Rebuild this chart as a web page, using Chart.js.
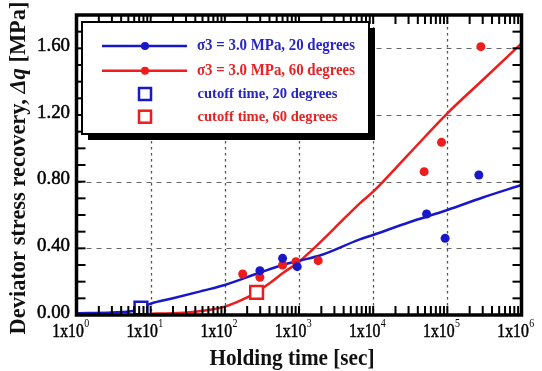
<!DOCTYPE html>
<html>
<head>
<meta charset="utf-8">
<script src="https://cdn.jsdelivr.net/npm/chart.js@4/dist/chart.umd.min.js"></script>
<style>
    html, body { margin: 0; padding: 0; background: #fff; }
    canvas { display: block; }
</style>
</head>
<body>
<canvas id="recoveryChart" width="542" height="371"></canvas>
<script>
// measured points (holding time [s], recovery [MPa])
const blueTime = [297, 601, 946, 52500, 93400, 266000];
const blueRecovery = [0.266, 0.34, 0.29, 0.606, 0.46, 0.84];
const redTime = [174, 297, 601, 908, 1815, 48700, 83500, 283000];
const redRecovery = [0.246, 0.226, 0.30, 0.32, 0.326, 0.86, 1.036, 1.61];

// cutoff time markers
const blueCutoffTime = [7.4];
const blueCutoffRecovery = [0.042];
const redCutoffTime = [268];
const redCutoffRecovery = [0.136];

// fitted curves
const blueFitTime = [1, 3, 6, 7.4, 10, 20, 50, 100, 300, 600, 1000, 2000, 6600, 10000, 30000, 100000, 300000, 1000000];
const blueFitRecovery = [0.01, 0.015, 0.025, 0.04, 0.068, 0.1, 0.145, 0.18, 0.255, 0.30, 0.325, 0.36, 0.454, 0.48, 0.555, 0.63, 0.705, 0.78];
const redFitTime = [10, 20, 40, 70, 100, 150, 268, 400, 600, 1000, 1500, 3000, 6600, 10000, 30000, 100000, 300000, 1000000];
const redFitRecovery = [0.008, 0.01, 0.02, 0.035, 0.05, 0.08, 0.136, 0.19, 0.25, 0.32, 0.39, 0.52, 0.67, 0.74, 0.964, 1.21, 1.41, 1.63];

// axis labels
const xExponents = ['0', '1', '2', '3', '4', '5', '6'];
const yTickValues = [0, 0.4, 0.8, 1.2, 1.6];

const legendLabels = [
    'σ3 = 3.0 MPa, 20 degrees',
    'σ3 = 3.0 MPa, 60 degrees',
    'cutoff time, 20 degrees',
    'cutoff time, 60 degrees'
];

const BLUE = '#1818c8';
const RED = '#ee1c1c';
const BLUE_TEXT = '#2626c4';
const RED_TEXT = '#e82222';
const SERIF = '"Liberation Serif", "Times New Roman", serif';

function toPoints(xs, ys) {
    return xs.map((x, i) => ({ x: x, y: ys[i] }));
}

// draw text squeezed/stretched horizontally to a given width
function fitText(ctx, text, x, y, width, align, heavy) {
    const w = ctx.measureText(text).width;
    ctx.save();
    ctx.translate(x, y);
    ctx.scale(width / w, 1);
    ctx.textAlign = align;
    ctx.fillText(text, 0, 0);
    if (heavy) {
        ctx.lineWidth = heavy;
        ctx.strokeStyle = ctx.fillStyle;
        ctx.strokeText(text, 0, 0);
    }
    ctx.restore();
}

// inward tick marks on all four sides
const tickMarks = {
    id: 'tickMarks',
    afterDraw(chart) {
        const ctx = chart.ctx;
        const area = chart.chartArea;
        const xs = chart.scales.x;
        const ys = chart.scales.y;
        ctx.save();
        ctx.fillStyle = '#000';
        for (let d = 0; d < 6; d++) {
            for (let k = 1; k <= 9; k++) {
                const px = xs.getPixelForValue(k * Math.pow(10, d));
                ctx.fillRect(px - 1, area.bottom - 9, 2, 9);
                ctx.fillRect(px - 1, area.top, 2, 9);
            }
        }
        for (let i = 1; i < 18; i++) {
            const py = ys.getPixelForValue(i / 10);
            ctx.fillRect(area.left, py - 1, 9, 2);
            ctx.fillRect(area.right - 9, py - 1, 9, 2);
        }
        ctx.restore();
    }
};

const chartDecor = {
    id: 'chartDecor',
    beforeDatasetsDraw(chart) {
        const ctx = chart.ctx;
        const area = chart.chartArea;
        const xs = chart.scales.x;
        const ys = chart.scales.y;

        ctx.save();
        // vertical dotted grid at decades
        ctx.strokeStyle = '#555';
        ctx.lineWidth = 1.3;
        ctx.setLineDash([2.5, 3.5]);
        for (let d = 1; d <= 5; d++) {
            const px = Math.round(xs.getPixelForValue(Math.pow(10, d))) + 0.5;
            ctx.beginPath();
            ctx.moveTo(px, area.top);
            ctx.lineTo(px, area.bottom);
            ctx.stroke();
        }
        // horizontal dashed grid
        ctx.strokeStyle = '#666';
        ctx.lineWidth = 1;
        ctx.setLineDash([5, 5]);
        yTickValues.slice(1).forEach(v => {
            const py = Math.round(ys.getPixelForValue(v)) + 0.5;
            ctx.beginPath();
            ctx.moveTo(area.left, py);
            ctx.lineTo(area.right, py);
            ctx.stroke();
        });
        ctx.restore();
    },
    afterDraw(chart) {
        const ctx = chart.ctx;
        const area = chart.chartArea;
        const xs = chart.scales.x;
        const ys = chart.scales.y;

        ctx.save();
        // frame
        ctx.strokeStyle = '#000';
        ctx.lineWidth = 3.5;
        ctx.strokeRect(area.left, area.top, area.right - area.left, area.bottom - area.top);

        // y tick labels
        ctx.fillStyle = '#000';
        ctx.textBaseline = 'middle';
        ctx.font = '18px ' + SERIF;
        yTickValues.forEach(v => {
            fitText(ctx, v.toFixed(2), 70, ys.getPixelForValue(v) - 2, 33, 'right', 0.5);
        });

        // x tick labels 1x10^n
        xExponents.forEach((e, i) => {
            const cx = xs.getPixelForValue(Math.pow(10, i)) - 6;
            ctx.font = '19px ' + SERIF;
            const w1 = ctx.measureText('1x10').width;
            ctx.font = '12px ' + SERIF;
            const w2 = ctx.measureText(e).width;
            const s = 36.5 / (w1 + w2);
            ctx.save();
            ctx.translate(cx - 36.5 / 2, 332);
            ctx.scale(s, 1);
            ctx.textAlign = 'left';
            ctx.strokeStyle = '#000';
            ctx.lineWidth = 0.5;
            ctx.font = '19px ' + SERIF;
            ctx.fillText('1x10', 0, 0);
            ctx.strokeText('1x10', 0, 0);
            ctx.font = '12px ' + SERIF;
            ctx.fillText(e, w1 + 0.5, -8);
            ctx.restore();
        });

        // axis titles
        ctx.fillStyle = '#111';
        ctx.font = 'bold 24px ' + SERIF;
        fitText(ctx, 'Holding time [sec]', 292, 359, 165, 'center');

        const parts = [
            { t: 'Deviator stress recovery, ', f: 'bold 23px ' + SERIF },
            { t: 'Δq', f: 'italic bold 23px ' + SERIF },
            { t: ' [MPa]', f: 'bold 23px ' + SERIF }
        ];
        let total = 0;
        parts.forEach(p => { ctx.font = p.f; p.w = ctx.measureText(p.t).width; total += p.w; });
        const sy = 333 / total;
        ctx.save();
        ctx.translate(19, 168);
        ctx.rotate(-Math.PI / 2);
        ctx.scale(sy, 1);
        ctx.textAlign = 'left';
        let pos = -total / 2;
        parts.forEach(p => { ctx.font = p.f; ctx.fillText(p.t, pos, 0); pos += p.w; });
        ctx.restore();

        // legend box with drop shadow
        const lx = 82, ly = 22, lw = 287, lh = 112;
        ctx.fillStyle = '#000';
        ctx.fillRect(lx + 6, ly + 6, lw, lh);
        ctx.fillStyle = '#fff';
        ctx.fillRect(lx, ly, lw, lh);
        ctx.lineWidth = 2;
        ctx.strokeStyle = '#000';
        ctx.strokeRect(lx, ly, lw, lh);

        const rows = [46, 70.7, 94, 116.7];
        // line samples
        [BLUE, RED].forEach((c, i) => {
            ctx.strokeStyle = c;
            ctx.fillStyle = c;
            ctx.lineWidth = 2.5;
            ctx.beginPath();
            ctx.moveTo(102, rows[i]);
            ctx.lineTo(187, rows[i]);
            ctx.stroke();
            ctx.beginPath();
            ctx.arc(145, rows[i], 4, 0, Math.PI * 2);
            ctx.fill();
        });
        // square samples
        [BLUE, RED].forEach((c, i) => {
            ctx.strokeStyle = c;
            ctx.fillStyle = '#fff';
            ctx.lineWidth = 2.5;
            ctx.fillRect(139, rows[i + 2] - 6, 12, 12);
            ctx.strokeRect(139, rows[i + 2] - 6, 12, 12);
        });
        // legend texts
        ctx.textBaseline = 'middle';
        ctx.font = 'bold 16px ' + SERIF;
        ctx.fillStyle = BLUE_TEXT;
        fitText(ctx, legendLabels[0], 197, rows[0], 158, 'left');
        ctx.fillStyle = RED_TEXT;
        fitText(ctx, legendLabels[1], 197, rows[1], 158, 'left');
        ctx.font = 'bold 15px ' + SERIF;
        ctx.fillStyle = BLUE_TEXT;
        fitText(ctx, legendLabels[2], 197.5, rows[2], 140, 'left');
        ctx.fillStyle = RED_TEXT;
        fitText(ctx, legendLabels[3], 197.5, rows[3], 140, 'left');

        ctx.restore();
    }
};

document.addEventListener('DOMContentLoaded', function() {
    const ctx = document.getElementById('recoveryChart').getContext('2d');

    const config = {
        type: 'scatter',
        data: {
            datasets: [{
                label: legendLabels[2],
                data: toPoints(blueCutoffTime, blueCutoffRecovery),
                pointStyle: 'rect',
                pointRadius: 9,
                borderColor: BLUE,
                backgroundColor: '#fff',
                borderWidth: 2.5
            }, {
                label: legendLabels[3],
                data: toPoints(redCutoffTime, redCutoffRecovery),
                pointStyle: 'rect',
                pointRadius: 9,
                borderColor: RED,
                backgroundColor: '#fff',
                borderWidth: 2.5
            }, {
                label: 'blue points',
                data: toPoints(blueTime, blueRecovery),
                pointRadius: 4.5,
                borderWidth: 0,
                backgroundColor: BLUE
            }, {
                label: 'red points',
                data: toPoints(redTime, redRecovery),
                pointRadius: 4.5,
                borderWidth: 0,
                backgroundColor: RED
            }, {
                label: legendLabels[0],
                data: toPoints(blueFitTime, blueFitRecovery),
                showLine: true,
                pointRadius: 0,
                borderColor: BLUE,
                borderWidth: 2.5,
                cubicInterpolationMode: 'monotone'
            }, {
                label: legendLabels[1],
                data: toPoints(redFitTime, redFitRecovery),
                showLine: true,
                pointRadius: 0,
                borderColor: RED,
                borderWidth: 2.5,
                cubicInterpolationMode: 'monotone'
            }]
        },
        options: {
            responsive: false,
            animation: false,
            layout: {
                padding: { left: 76.5, right: 20.5, top: 15, bottom: 56 }
            },
            scales: {
                x: {
                    type: 'logarithmic',
                    min: 1,
                    max: 1000000,
                    display: false
                },
                y: {
                    type: 'linear',
                    min: 0,
                    max: 1.8,
                    display: false
                }
            },
            plugins: {
                legend: { display: false },
                tooltip: { enabled: false }
            }
        },
        plugins: [tickMarks, chartDecor]
    };

    new Chart(ctx, config);
});
</script>
</body>
</html>
